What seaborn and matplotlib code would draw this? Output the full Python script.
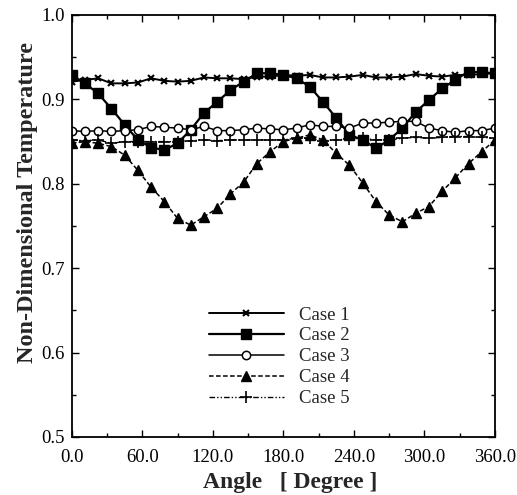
import numpy as np
import pandas as pd
import matplotlib
matplotlib.use("Agg")
import matplotlib.pyplot as plt
import seaborn as sns
from matplotlib.ticker import MultipleLocator

angles = [0.0, 11.25, 22.5, 33.75, 45.0, 56.25, 67.5, 78.75, 90.0, 101.25, 112.5,
          123.75, 135.0, 146.25, 157.5, 168.75, 180.0, 191.25, 202.5, 213.75, 225.0,
          236.25, 247.5, 258.75, 270.0, 281.25, 292.5, 303.75, 315.0, 326.25, 337.5,
          348.75, 360.0]

case1 = [0.921, 0.923, 0.925, 0.919, 0.919, 0.920, 0.925, 0.922, 0.921, 0.922, 0.926,
         0.925, 0.925, 0.924, 0.927, 0.927, 0.929, 0.928, 0.929, 0.926, 0.926, 0.927,
         0.929, 0.926, 0.926, 0.927, 0.930, 0.928, 0.927, 0.929, 0.929, 0.930, 0.931]
case2 = [0.929, 0.919, 0.907, 0.889, 0.870, 0.852, 0.843, 0.840, 0.848, 0.864, 0.884,
         0.897, 0.911, 0.921, 0.931, 0.931, 0.929, 0.925, 0.915, 0.897, 0.878, 0.858,
         0.852, 0.842, 0.852, 0.866, 0.885, 0.899, 0.913, 0.923, 0.933, 0.932, 0.931]
case3 = [0.863, 0.862, 0.863, 0.862, 0.863, 0.864, 0.868, 0.867, 0.866, 0.864, 0.868,
         0.863, 0.863, 0.864, 0.866, 0.865, 0.864, 0.866, 0.870, 0.868, 0.868, 0.866,
         0.872, 0.872, 0.873, 0.874, 0.874, 0.866, 0.863, 0.861, 0.863, 0.863, 0.866]
case4 = [0.848, 0.850, 0.848, 0.844, 0.834, 0.816, 0.796, 0.779, 0.759, 0.751, 0.761,
         0.771, 0.788, 0.802, 0.824, 0.838, 0.850, 0.854, 0.858, 0.852, 0.836, 0.822,
         0.801, 0.779, 0.763, 0.755, 0.765, 0.773, 0.791, 0.807, 0.824, 0.838, 0.852]
case5 = [0.852, 0.851, 0.852, 0.848, 0.850, 0.850, 0.850, 0.850, 0.850, 0.851, 0.852,
         0.851, 0.852, 0.852, 0.852, 0.852, 0.852, 0.854, 0.854, 0.851, 0.852, 0.853,
         0.854, 0.852, 0.852, 0.854, 0.855, 0.854, 0.855, 0.856, 0.856, 0.855, 0.854]

labels = ["Case 1", "Case 2", "Case 3", "Case 4", "Case 5"]
series = [case1, case2, case3, case4, case5]
xticks = [0.0, 60.0, 120.0, 180.0, 240.0, 300.0, 360.0]
yticks = [0.5, 0.6, 0.7, 0.8, 0.9, 1.0]

sns.set_style("ticks")
plt.rcParams["font.family"] = ["Liberation Serif", "DejaVu Serif"]

styles = {
    "Case 1": dict(marker="x", markersize=4, mew=1.5, mfc="black", ls="-", lw=1.4),
    "Case 2": dict(marker="s", markersize=6.5, mfc="black", ls="-", lw=1.6),
    "Case 3": dict(marker="o", markersize=6, mfc="white", mew=1.1, ls="-", lw=1.1),
    "Case 4": dict(marker="^", markersize=6.5, mfc="black", ls=(0, (3, 1.6)), lw=1.1),
    "Case 5": dict(marker="+", markersize=8, mew=1.2, ls=(0, (4, 1.5, 1, 1.5, 1, 1.5)), lw=1.0),
}

fig = plt.figure(figsize=(5.17, 4.95), dpi=100)
ax = fig.add_axes([0.1387, 0.1172, 0.8187, 0.8525])

for lab, vals in zip(labels, series):
    df = pd.DataFrame({"Angle": angles, "T": vals})
    st = styles[lab]
    sns.lineplot(data=df, x="Angle", y="T", ax=ax, color="black", label=lab,
                 marker=st["marker"], markersize=st["markersize"],
                 markerfacecolor=st["mfc"] if "mfc" in st else "black",
                 markeredgecolor="black", markeredgewidth=st.get("mew", 1.0),
                 linestyle=st["ls"], linewidth=st["lw"])

ax.set_xlim(0, 360)
ax.set_ylim(0.5, 1.0)
ax.set_xticks(xticks)
ax.set_xticklabels([f"{v:.1f}" for v in xticks])
ax.set_yticks(yticks)
ax.set_yticklabels([f"{v:.1f}" for v in yticks])
ax.xaxis.set_minor_locator(MultipleLocator(30))
ax.yaxis.set_minor_locator(MultipleLocator(0.05))
ax.tick_params(which="both", direction="in", top=True, right=True, labelsize=13.5,
               width=1.0, colors="black")
ax.tick_params(which="major", length=5)
ax.tick_params(which="minor", length=3)
ax.tick_params(axis="x", pad=9)
ax.tick_params(axis="y", pad=5)
for s in ax.spines.values():
    s.set_linewidth(1.3)
    s.set_color("black")

ax.set_xlabel("Angle   [ Degree ]", fontsize=17, fontweight="bold")
ax.set_ylabel("Non-Dimensional Temperature", fontsize=17.5, fontweight="bold")
ax.xaxis.set_label_coords(0.516, -0.084)
ax.yaxis.set_label_coords(-0.08, 0.555)

leg = ax.legend(loc="center", bbox_to_anchor=(0.49, 0.19), frameon=False,
                fontsize=13.5, handlelength=4.0, handletextpad=0.8, labelspacing=0.2,
                numpoints=1)

fig.savefig("out.png", dpi=100)
